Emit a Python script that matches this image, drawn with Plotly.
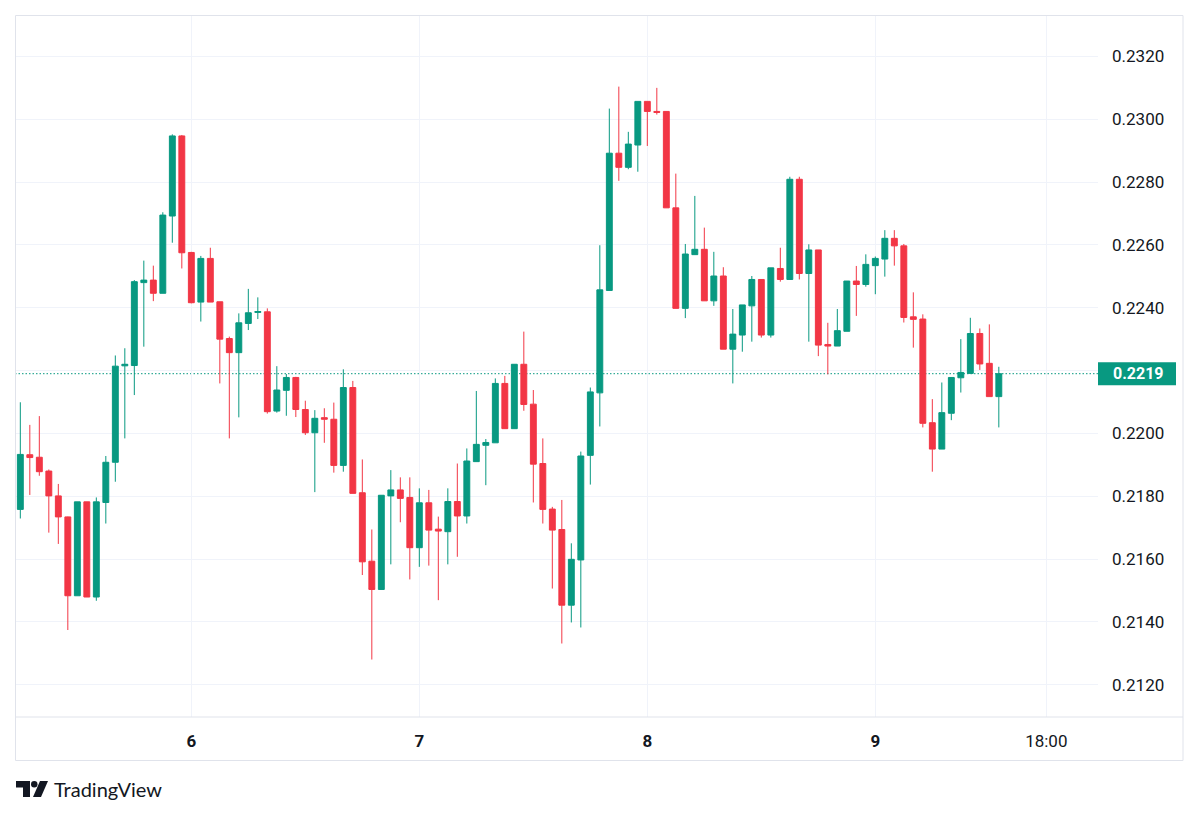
import datetime as dt
import plotly.graph_objects as go

# ---------------- data (hourly candles, day 5 06:00 -> day 9 13:00) ----------------
opens = [0.21758, 0.21932, 0.21924, 0.21880, 0.21801, 0.21734, 0.21483, 0.21782, 0.21479, 0.21780,
         0.21908, 0.22215, 0.22216, 0.22480, 0.22488, 0.22446, 0.22692, 0.22947, 0.22576, 0.22418,
         0.22557, 0.22419, 0.22302, 0.22257, 0.22350, 0.22385, 0.22387, 0.22071, 0.22137, 0.22178,
         0.22076, 0.22002, 0.22050, 0.22045, 0.21898, 0.22146, 0.21811, 0.21593, 0.21503, 0.21801,
         0.21820, 0.21796, 0.21636, 0.21779, 0.21695, 0.21687, 0.21783, 0.21737, 0.21910, 0.21962,
         0.21970, 0.22159, 0.22015, 0.22220, 0.22093, 0.21904, 0.21759, 0.21694, 0.21453, 0.21597,
         0.21930, 0.22129, 0.22455, 0.22892, 0.22847, 0.22918, 0.23057, 0.23025, 0.23025, 0.22718,
         0.22398, 0.22569, 0.22586, 0.22422, 0.22501, 0.22268, 0.22313, 0.22406, 0.22490, 0.22313,
         0.22525, 0.22490, 0.22809, 0.22509, 0.22584, 0.22283, 0.22278, 0.22325, 0.22485, 0.22474,
         0.22534, 0.22555, 0.22621, 0.22597, 0.22371, 0.22364, 0.22034, 0.21950, 0.22064, 0.22177,
         0.22191, 0.22318, 0.22223, 0.22117]
highs = [0.22099, 0.22027, 0.22055, 0.21885, 0.21839, 0.21735, 0.21782, 0.21782, 0.21796, 0.21928,
         0.22248, 0.22271, 0.22488, 0.22550, 0.22534, 0.22704, 0.22952, 0.22950, 0.22578, 0.22565,
         0.22591, 0.22419, 0.22308, 0.22382, 0.22460, 0.22433, 0.22398, 0.22214, 0.22189, 0.22180,
         0.22104, 0.22074, 0.22080, 0.22098, 0.22204, 0.22167, 0.21917, 0.21694, 0.21803, 0.21883,
         0.21860, 0.21860, 0.21825, 0.21820, 0.21735, 0.21825, 0.21904, 0.21952, 0.22135, 0.21982,
         0.22175, 0.22183, 0.22220, 0.22324, 0.22138, 0.21984, 0.21766, 0.21788, 0.21650, 0.21942,
         0.22146, 0.22599, 0.23034, 0.23104, 0.22960, 0.23057, 0.23057, 0.23100, 0.23025, 0.22827,
         0.22603, 0.22756, 0.22655, 0.22578, 0.22529, 0.22396, 0.22409, 0.22501, 0.22490, 0.22527,
         0.22591, 0.22817, 0.22817, 0.22602, 0.22584, 0.22352, 0.22396, 0.22485, 0.22533, 0.22570,
         0.22563, 0.22647, 0.22647, 0.22603, 0.22449, 0.22379, 0.22109, 0.22162, 0.22178, 0.22300,
         0.22368, 0.22334, 0.22347, 0.22212]
lows = [0.21729, 0.21804, 0.21865, 0.21684, 0.21648, 0.21374, 0.21483, 0.21479, 0.21467, 0.21713,
        0.21846, 0.21984, 0.22122, 0.22276, 0.22421, 0.22446, 0.22607, 0.22525, 0.22414, 0.22356,
        0.22418, 0.22159, 0.21984, 0.22051, 0.22329, 0.22364, 0.22063, 0.22066, 0.22056, 0.22052,
        0.21995, 0.21813, 0.21970, 0.21875, 0.21878, 0.21809, 0.21549, 0.21280, 0.21503, 0.21583,
        0.21717, 0.21535, 0.21575, 0.21579, 0.21469, 0.21583, 0.21607, 0.21713, 0.21910, 0.21835,
        0.21970, 0.22015, 0.22015, 0.22072, 0.21780, 0.21713, 0.21506, 0.21331, 0.21398, 0.21382,
        0.21837, 0.22022, 0.22455, 0.22804, 0.22841, 0.22833, 0.22915, 0.23015, 0.22718, 0.22398,
        0.22367, 0.22569, 0.22422, 0.22406, 0.22268, 0.22159, 0.22260, 0.22292, 0.22305, 0.22305,
        0.22483, 0.22490, 0.22490, 0.22292, 0.22246, 0.22188, 0.22278, 0.22325, 0.22374, 0.22467,
        0.22443, 0.22499, 0.22534, 0.22353, 0.22273, 0.22019, 0.21878, 0.21950, 0.22042, 0.22130,
        0.22191, 0.22202, 0.22117, 0.22019]
closes = [0.21933, 0.21923, 0.21878, 0.21801, 0.21734, 0.21483, 0.21782, 0.21479, 0.21782, 0.21908,
          0.22214, 0.22220, 0.22483, 0.22488, 0.22446, 0.22695, 0.22947, 0.22575, 0.22416, 0.22557,
          0.22418, 0.22300, 0.22257, 0.22352, 0.22384, 0.22388, 0.22069, 0.22138, 0.22178, 0.22076,
          0.22002, 0.22048, 0.22045, 0.21898, 0.22146, 0.21809, 0.21591, 0.21503, 0.21803, 0.21820,
          0.21793, 0.21636, 0.21779, 0.21692, 0.21689, 0.21783, 0.21737, 0.21912, 0.21965, 0.21971,
          0.22159, 0.22015, 0.22220, 0.22092, 0.21902, 0.21758, 0.21692, 0.21453, 0.21599, 0.21928,
          0.22132, 0.22457, 0.22892, 0.22847, 0.22921, 0.23057, 0.23025, 0.23022, 0.22718, 0.22398,
          0.22571, 0.22586, 0.22422, 0.22501, 0.22268, 0.22316, 0.22409, 0.22490, 0.22313, 0.22527,
          0.22490, 0.22809, 0.22509, 0.22584, 0.22281, 0.22278, 0.22327, 0.22485, 0.22474, 0.22538,
          0.22557, 0.22621, 0.22597, 0.22369, 0.22363, 0.22032, 0.21950, 0.22066, 0.22178, 0.22194,
          0.22318, 0.22221, 0.22117, 0.22190]

start_time = dt.datetime(2024, 3, 5, 6, 0)
times = [start_time + dt.timedelta(hours=i) for i in range(len(opens))]

# 0.2220 is hidden behind the last-price label in the reference
price_ticks = [0.2120, 0.2140, 0.2160, 0.2180, 0.2200, 0.2240, 0.2260, 0.2280, 0.2300, 0.2320]
hidden_grid = [0.2220]
time_tick_vals = [dt.datetime(2024, 3, 6), dt.datetime(2024, 3, 7), dt.datetime(2024, 3, 8),
                  dt.datetime(2024, 3, 9), dt.datetime(2024, 3, 9, 18, 0)]
time_tick_text = ["<b>6</b>", "<b>7</b>", "<b>8</b>", "<b>9</b>", "18:00"]
last_price = 0.2219
last_label = "0.2219"

# ---------------- style ----------------
GREEN = "#089981"
RED = "#F23645"
GRID = "#f0f3fa"
BORDER = "#e0e3eb"
TEXT = "#131722"
FONT = "Roboto, 'Open Sans', sans-serif"

W, H = 1200, 817
L, R, T, B = 15, 102, 15, 100
PW = W - L - R
PH = H - T - B

y_min, y_max = 0.21097, 0.23332
x_min = start_time - dt.timedelta(hours=0.56)
x_max = start_time + dt.timedelta(hours=113.44)


def px(x):
    return (x - L) / PW


def py(y):
    return (H - B - y) / PH


fig = go.Figure()
fig.add_trace(go.Candlestick(
    x=times, open=opens, high=highs, low=lows, close=closes,
    increasing=dict(line=dict(color=GREEN, width=1), fillcolor=GREEN),
    decreasing=dict(line=dict(color=RED, width=1), fillcolor=RED),
    whiskerwidth=0, showlegend=False, hoverinfo="skip",
))

shapes = []
for g in hidden_grid:
    shapes.append(dict(type="line", xref="paper", yref="y", x0=0, x1=1, y0=g, y1=g,
                       line=dict(color=GRID, width=1), layer="below"))
# outer frame and time-axis separator
shapes.append(dict(type="rect", xref="paper", yref="paper", x0=px(15.5), x1=px(1183), y0=py(760.5), y1=py(15.5),
                   line=dict(color=BORDER, width=1), layer="above"))
shapes.append(dict(type="line", xref="paper", yref="paper", x0=px(15.5), x1=px(1183), y0=py(717), y1=py(717),
                   line=dict(color=BORDER, width=1), layer="above"))
# last-price dotted line
lp = (last_price - y_min) / (y_max - y_min)
shapes.append(dict(type="line", xref="paper", yref="paper", x0=0, x1=1, y0=lp, y1=lp,
                   line=dict(color=GREEN, width=1, dash="1.5px,2px"), layer="below"))
# last-price label box
half_h = 11.5 / PH
shapes.append(dict(type="rect", xref="paper", yref="paper", x0=px(1098), x1=px(1176), y0=lp - half_h, y1=lp + half_h,
                   line=dict(width=0), fillcolor=GREEN, layer="above"))
# TradingView logo mark
shapes.append(dict(type="path", xref="paper", yref="paper",
                   path=(f"M {px(16)},{py(781)} L {px(30)},{py(781)} L {px(30)},{py(797)} L {px(23)},{py(797)} "
                         f"L {px(23)},{py(787.5)} L {px(16)},{py(787.5)} Z"),
                   line=dict(width=0), fillcolor=TEXT))
shapes.append(dict(type="circle", xref="paper", yref="paper", x0=px(31), x1=px(37.5), y0=py(787.5), y1=py(781),
                   line=dict(width=0), fillcolor=TEXT))
shapes.append(dict(type="path", xref="paper", yref="paper",
                   path=(f"M {px(40)},{py(781)} L {px(48)},{py(781)} L {px(41)},{py(797)} L {px(33)},{py(797)} Z"),
                   line=dict(width=0), fillcolor=TEXT))

annotations = [
    dict(xref="paper", yref="paper", x=px(1111), y=lp, xanchor="left", yanchor="middle",
         text=f"<b>{last_label}</b>", showarrow=False, font=dict(family=FONT, size=16, color="white")),
    dict(xref="paper", yref="paper", x=px(52), y=py(789), xanchor="left", yanchor="middle",
         text="TradingView", showarrow=False, font=dict(family="Lato, 'Open Sans', sans-serif", size=20, color=TEXT)),
]

fig.update_layout(
    width=W, height=H,
    margin=dict(l=L, r=R, t=T, b=B),
    paper_bgcolor="white", plot_bgcolor="white",
    boxgap=0.38, boxgroupgap=0,
    showlegend=False,
    shapes=shapes, annotations=annotations,
    font=dict(family=FONT, color=TEXT, size=17),
    xaxis=dict(type="date", range=[x_min, x_max], rangeslider=dict(visible=False),
               tickmode="array", tickvals=time_tick_vals, ticktext=time_tick_text,
               showgrid=True, gridcolor=GRID, gridwidth=1, zeroline=False, showline=False,
               ticks="", ticklabelstandoff=12, tickfont=dict(family=FONT, size=17, color=TEXT),
               fixedrange=True),
    yaxis=dict(side="right", range=[y_min, y_max], tickmode="array", tickvals=price_ticks,
               ticktext=[f"{v:.4f}" for v in price_ticks],
               showgrid=True, gridcolor=GRID, gridwidth=1, zeroline=False, showline=False,
               ticks="", ticklabelstandoff=13, tickfont=dict(family=FONT, size=17, color=TEXT),
               fixedrange=True),
)

fig.write_html("out.html")
